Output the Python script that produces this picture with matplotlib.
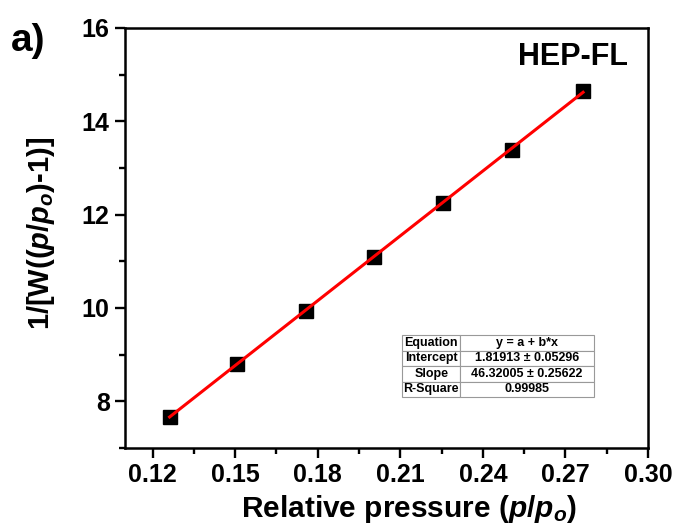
import matplotlib
matplotlib.use("Agg")
import matplotlib.pyplot as plt
import numpy as np
from matplotlib.ticker import MultipleLocator

plt.rcParams['font.family'] = ['Liberation Sans', 'DejaVu Sans']
plt.rcParams['font.weight'] = 'bold'
plt.rcParams['mathtext.fontset'] = 'custom'
plt.rcParams['mathtext.it'] = 'Liberation Sans:italic:bold'
plt.rcParams['mathtext.rm'] = 'Liberation Sans:bold'

# data
p_rel = [0.1262, 0.1505, 0.1756, 0.2005, 0.2255, 0.2507, 0.2764]
bet_y = [7.66, 8.79, 9.94, 11.10, 12.26, 13.38, 14.66]
intercept = 1.81913
slope = 46.32005

table_rows = [["Equation", "y = a + b*x"],
              ["Intercept", "1.81913 \u00b1 0.05296"],
              ["Slope", "46.32005 \u00b1 0.25622"],
              ["R-Square", "0.99985"]]

fig = plt.figure(figsize=(6.78, 5.28), dpi=100)
ax = fig.add_axes([0.1844, 0.1515, 0.7714, 0.7955])

xf = np.array([p_rel[0], p_rel[-1]])
ax.plot(p_rel, bet_y, 's', color='black', markersize=9.5, zorder=3)
ax.plot(xf, intercept + slope * xf, color='red', lw=2.2, zorder=4)

ax.set_xlim(0.11, 0.30)
ax.set_ylim(7, 16)
ax.xaxis.set_minor_locator(MultipleLocator(0.015))
ax.yaxis.set_major_locator(MultipleLocator(2))
ax.yaxis.set_minor_locator(MultipleLocator(1))
ax.set_xticks([0.12, 0.15, 0.18, 0.21, 0.24, 0.27, 0.30])
ax.set_xticklabels(['0.12', '0.15', '0.18', '0.21', '0.24', '0.27', '0.30'])
ax.tick_params(axis='both', which='major', direction='out', length=7, width=1.7,
               labelsize=18, pad=4)
ax.tick_params(axis='both', which='minor', direction='out', length=4, width=1.7)
for sp in ax.spines.values():
    sp.set_linewidth(1.8)

ax.set_xlabel(r'Relative pressure ($p$/$p_o$)', fontsize=21.5, fontweight='bold')
ax.set_ylabel(r'1/[W(($p$/$p_o$)-1)]', fontsize=21, fontweight='bold')
ax.xaxis.set_label_coords(0.543, -0.108)
ax.yaxis.set_label_coords(-0.131, 0.51)

ax.text(0.857, 0.931, 'HEP-FL', transform=ax.transAxes, fontsize=22, fontweight='bold',
        ha='center', va='center')
fig.text(0.016, 0.922, 'a)', fontsize=28, fontweight='bold', ha='left', va='center')

tb = ax.table(cellText=table_rows, colWidths=[58, 134],
              bbox=[0.530, 0.121, 0.367, 0.148], cellLoc='center')
tb.auto_set_font_size(False)
for (r, c), cell in tb.get_celld().items():
    cell.set_fontsize(9)
    cell.set_linewidth(0.8)
    cell.set_edgecolor('#999999')
    cell.get_text().set_fontweight('bold')
    if c == 0:
        cell._loc = 'left'
        cell.PAD = 0.03

fig.savefig('out.png', dpi=100)
